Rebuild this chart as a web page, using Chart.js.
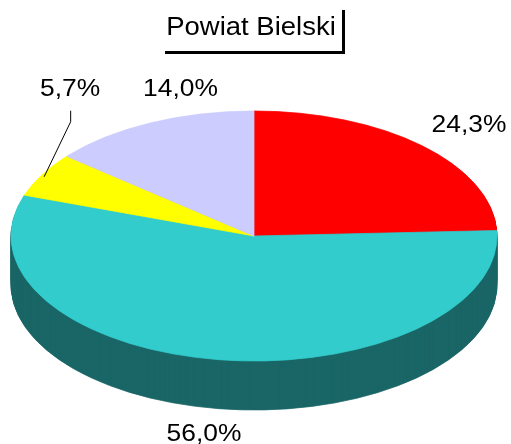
<!DOCTYPE html>
<html>
<head>
<meta charset="utf-8">
<script src="https://cdn.jsdelivr.net/npm/chart.js@4/dist/chart.umd.min.js"></script>
<style>
  html, body { margin: 0; padding: 0; background: #fff; }
  #wrap { width: 511px; height: 444px; }
</style>
</head>
<body>
<div id="wrap"><canvas id="pie" width="511" height="444"></canvas></div>
<script>
/* ── Data ── */
const title      = 'Powiat Bielski';
const categories = ['A', 'B', 'C', 'D'];
const shares     = [24.3, 56.0, 5.7, 14.0];

/* ── Palette ── */
const faceColors = ['#ff0000', '#33cccc', '#ffff00', '#ccccff'];
const sideColors = ['#800000', '#1a6666', '#808000', '#666680'];

/* ── 3D look ── */
const TILT    = 125 / 243;   // vertical squash of the disc
const DEPTH   = 49;          // thickness in px
const STRETCH = 1.1;         // text is a bit wider than plain Arial
const FONT    = '"Liberation Sans", Arial, sans-serif';

/* label anchors, relative to the rim point at each slice's mid-angle */
const labelDx   = [47, -15, 28, 30];
const labelDy   = [-14, 81, -79, -27];
const hasLeader = [false, false, true, false];

const fmt = v => v.toFixed(1).replace('.', ',') + '%';

function squash(ctx, cx, cy) {
  ctx.translate(cx, cy);
  ctx.scale(1, TILT);
  ctx.translate(-cx, -cy);
}

function drawText(ctx, text, cx, baseline, size) {
  ctx.save();
  ctx.font = `${size}px ${FONT}`;
  ctx.translate(cx, baseline);
  ctx.scale(STRETCH, 1);
  ctx.textAlign = 'center';
  ctx.textBaseline = 'alphabetic';
  ctx.fillStyle = '#000';
  ctx.fillText(text, 0, 0);
  ctx.restore();
}

const pie3d = {
  id: 'pie3d',
  beforeDatasetsDraw(chart) {
    const ctx  = chart.ctx;
    const arcs = chart.getDatasetMeta(0).data;
    const { x, y } = arcs[0];
    // extrusion: stack darker copies from the bottom up
    for (let d = DEPTH; d > 0; d--) {
      ctx.save();
      ctx.translate(0, d);
      squash(ctx, x, y);
      arcs.forEach((arc, i) => {
        const o = arc.options;
        arc.options = Object.assign({}, o, { backgroundColor: sideColors[i], borderColor: sideColors[i] });
        arc.draw(ctx);
        arc.options = o;
      });
      ctx.restore();
    }
    ctx.save();
    squash(ctx, x, y);
  },
  afterDatasetsDraw(chart) {
    const ctx = chart.ctx;
    ctx.restore();

    const arcs = chart.getDatasetMeta(0).data;
    arcs.forEach((arc, i) => {
      const mid = (arc.startAngle + arc.endAngle) / 2;
      const rx  = arc.x + arc.outerRadius * Math.cos(mid);
      const ry  = arc.y + arc.outerRadius * Math.sin(mid) * TILT;
      const lx  = rx + labelDx[i];
      const ly  = ry + labelDy[i];
      drawText(ctx, fmt(shares[i]), lx, ly, 24);
      if (hasLeader[i]) {
        ctx.save();
        ctx.strokeStyle = '#000';
        ctx.lineWidth = 1;
        ctx.beginPath();
        ctx.moveTo(lx + 0.5, ly + 15);
        ctx.lineTo(lx + 0.5, ly + 26);
        ctx.lineTo(rx + 2, ry + 2);
        ctx.stroke();
        ctx.restore();
      }
    });

    // title with its drop-shadow frame
    ctx.save();
    ctx.fillStyle = '#000';
    ctx.fillRect(165, 51, 180, 3);
    ctx.fillRect(342, 10, 3, 44);
    ctx.restore();
    drawText(ctx, title, 251, 35, 25);
  },
};

new Chart(document.getElementById('pie'), {
  type: 'pie',
  data: {
    labels: categories,
    datasets: [{
      data: shares,
      backgroundColor: faceColors,
      borderColor: faceColors,
      borderWidth: 1,
      clip: false,
    }],
  },
  options: {
    responsive: false,
    animation: false,
    radius: 243,
    layout: { padding: { left: 0, right: 3, top: 28, bottom: 0 } },
    plugins: {
      legend: { display: false },
      tooltip: { enabled: false },
      title: { display: false },
    },
  },
  plugins: [pie3d],
});
</script>
</body>
</html>
